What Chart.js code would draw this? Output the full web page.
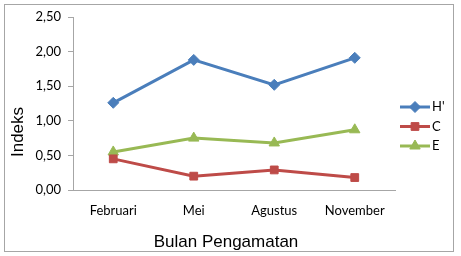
<!DOCTYPE html>
<html>
<head>
<meta charset="utf-8">
<script src="https://cdn.jsdelivr.net/npm/chart.js@4/dist/chart.umd.min.js"></script>
<style>
  html, body { margin: 0; padding: 0; background: #fff; }
  #wrap { position: relative; width: 461px; height: 256px; }
</style>
</head>
<body>
<div id="wrap"><canvas id="c" width="461" height="256"></canvas></div>
<script>
"use strict";

// data
const MONTHS = ["Februari", "Mei", "Agustus", "November"];
const H_VALUES = [1.26, 1.88, 1.52, 1.91];
const C_VALUES = [0.45, 0.20, 0.29, 0.18];
const E_VALUES = [0.55, 0.75, 0.68, 0.87];
const Y_TICKS = [0, 0.5, 1.0, 1.5, 2.0, 2.5];

const FONT = "Lato, 'Open Sans', sans-serif";
const TITLE_FONT = "'Liberation Sans', Arial, sans-serif";

const SERIES = [
  { label: "H'", data: H_VALUES, color: "#4a7ebb", style: "rectRot", radius: 5.5 },
  { label: "C", data: C_VALUES, color: "#be4b48", style: "rect", radius: 5.5 },
  { label: "E", data: E_VALUES, color: "#98b954", style: "triangle", radius: 6 },
];

// outer frame, axis titles (placed like the original) and legend on the right
const framePlugin = {
  id: "frame",
  afterDraw(chart) {
    const ctx = chart.ctx;
    ctx.save();
    ctx.strokeStyle = "#a6a6a6";
    ctx.lineWidth = 1;
    ctx.strokeRect(4.5, 4.5, 449, 247);

    ctx.fillStyle = "#000";
    ctx.font = "17px " + TITLE_FONT;
    ctx.textAlign = "center";
    ctx.textBaseline = "middle";
    ctx.fillText("Bulan Pengamatan", 226, 242);

    ctx.save();
    ctx.translate(18, 132);
    ctx.rotate(-Math.PI / 2);
    ctx.fillText("Indeks", 0, 0);
    ctx.restore();

    const x0 = 400;
    let y = 107;
    chart.data.datasets.forEach((ds) => {
      ctx.strokeStyle = ds.borderColor;
      ctx.fillStyle = ds.backgroundColor;
      ctx.lineWidth = 3;
      ctx.beginPath();
      ctx.moveTo(x0, y);
      ctx.lineTo(x0 + 30, y);
      ctx.stroke();
      ctx.lineWidth = 1;
      Chart.helpers.drawPoint(ctx, {
        pointStyle: ds.pointStyle,
        radius: ds.pointRadius,
        borderWidth: 1,
      }, x0 + 15, y);
      ctx.fillStyle = "#000";
      ctx.font = "13px " + FONT;
      ctx.textBaseline = "middle";
      ctx.textAlign = "left";
      ctx.fillText(ds.label, x0 + 32, y);
      y += 19.5;
    });
    ctx.restore();
  },
};

const datasets = SERIES.map((s) => ({
  label: s.label,
  data: s.data,
  borderColor: s.color,
  backgroundColor: s.color,
  borderWidth: 3,
  pointStyle: s.style,
  pointRadius: s.radius,
  pointHoverRadius: s.radius,
  pointBorderWidth: 1,
  tension: 0,
  fill: false,
}));

new Chart(document.getElementById("c").getContext("2d"), {
  type: "line",
  data: { labels: MONTHS, datasets },
  plugins: [framePlugin],
  options: {
    responsive: false,
    animation: false,
    layout: { padding: { top: 17, right: 66, left: 0, bottom: 0 } },
    plugins: { legend: { display: false }, tooltip: { enabled: false } },
    scales: {
      x: {
        offset: true,
        grid: { display: false, drawTicks: false },
        border: { color: "#a6a6a6", width: 1 },
        ticks: { color: "#000", font: { family: FONT, size: 13 }, padding: 13 },
        afterFit: (s) => { s.height = 66; },
      },
      y: {
        min: 0,
        max: 2.5,
        afterBuildTicks: (s) => { s.ticks = Y_TICKS.map((v) => ({ value: v })); },
        grid: { drawOnChartArea: false, tickLength: 5, color: "#a6a6a6" },
        border: { color: "#a6a6a6", width: 1 },
        ticks: {
          color: "#000",
          font: { family: FONT, size: 13 },
          padding: 7,
          callback: (v) => v.toFixed(2).replace(".", ","),
        },
        afterFit: (s) => { s.width = 73; },
      },
    },
  },
});
</script>
</body>
</html>
